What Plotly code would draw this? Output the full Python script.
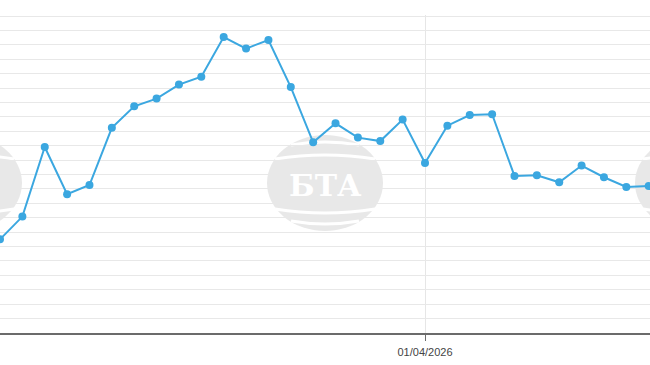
import plotly.graph_objects as go
import pandas as pd

dates = pd.date_range("2026-03-13", "2026-04-11", freq="D").strftime("%Y-%m-%d").tolist()
values = [6.50, 8.08, 12.91, 9.63, 10.27, 14.24, 15.73, 16.27, 17.24, 17.79,
          20.54, 19.74, 20.33, 17.07, 13.23, 14.55, 13.56, 13.32, 14.81, 11.80,
          14.39, 15.13, 15.18, 10.90, 10.94, 10.46, 11.62, 10.81, 10.13, 10.20]
tick_format = "%d/%m/%Y"
watermark_text = "БТА"

W, H = 650, 365
ML, MR, MT, MB = 0, 0, 15, 32
PW, PH = W - ML - MR, H - MT - MB

def px(x):
    return (x - ML) / PW

def py(y):
    return (H - MB - y) / PH

fig = go.Figure()
fig.add_trace(go.Scatter(
    x=dates, y=values, mode="lines+markers",
    line=dict(color="#3ba7e0", width=2),
    marker=dict(color="#3ba7e0", size=8),
    hoverinfo="x+y", showlegend=False,
))

shapes = []
annotations = []
for i, cx in enumerate([-36, 325, 693]):
    cy = 183
    rx, ry = 58, 48
    shapes.append(dict(type="circle", xref="paper", yref="paper",
                       x0=px(cx - rx), x1=px(cx + rx), y0=py(cy + ry), y1=py(cy - ry),
                       fillcolor="rgba(228,228,228,0.85)", line=dict(width=0), layer="below"))
    for (dy, w, sag) in [(-38, 34, 6), (-24, 50, 8), (26, 50, -8), (38, 34, -6)]:
        x0, x1 = cx - w, cx + w
        ya = cy + dy
        path = "M {},{} Q {},{} {},{}".format(px(x0), py(ya), px(cx), py(ya - sag), px(x1), py(ya))
        shapes.append(dict(type="path", xref="paper", yref="paper", path=path,
                           line=dict(color="white", width=3), layer="below"))
    if i == 1:
        annotations.append(dict(xref="paper", yref="paper", x=px(cx), y=py(cy + 2),
                                text="<b>" + watermark_text + "</b>", showarrow=False,
                                font=dict(family="DejaVu Serif", size=30, color="white"),
                                xanchor="center", yanchor="middle"))

fig.update_layout(
    width=W, height=H, autosize=False,
    margin=dict(l=ML, r=MR, t=MT, b=MB, pad=0, autoexpand=False),
    paper_bgcolor="white", plot_bgcolor="rgba(0,0,0,0)",
    shapes=shapes, annotations=annotations,
    xaxis=dict(
        type="date",
        range=["2026-03-13 00:00", "2026-04-11 01:24"],
        tickmode="linear", tick0="2026-01-01", dtick="M1",
        tickformat=tick_format,
        showgrid=True, gridcolor="#e6e6e6", gridwidth=1,
        showline=True, linecolor="#6b6b6b", linewidth=1.5,
        ticks="outside", ticklen=6, tickcolor="#6b6b6b", tickwidth=1,
        tickfont=dict(family="Liberation Sans", size=11, color="#444444"),
        ticklabelstandoff=2,
        zeroline=False,
    ),
    yaxis=dict(
        range=[0, 22.07],
        tickmode="linear", tick0=0, dtick=1,
        showgrid=True, gridcolor="#e8e8e8", gridwidth=1,
        showticklabels=False, zeroline=False, showline=False,
    ),
)

post = ("document.body.style.margin='0';document.body.style.padding='0';"
        "document.body.style.overflow='hidden';"
        "var gd=document.getElementById('{plot_id}');"
        "Plotly.relayout(gd,{width:650,height:365});")

fig.write_html("out.html", config={"responsive": False, "displayModeBar": False}, post_script=post)
